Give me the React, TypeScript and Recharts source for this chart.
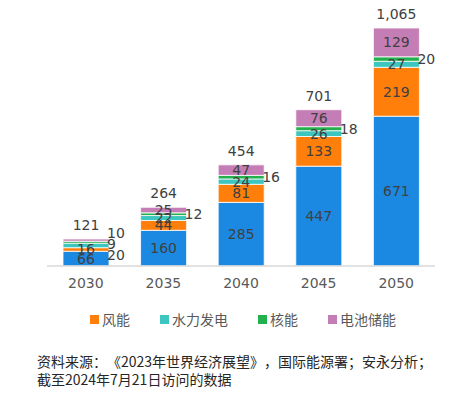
import React from 'react';
import { BarChart, Bar, XAxis, YAxis, LabelList } from 'recharts';

const years = ['2030', '2035', '2040', '2045', '2050'];
const solar = [66, 160, 285, 447, 671];
const wind = [16, 44, 81, 133, 219];
const hydro = [20, 22, 24, 26, 27];
const nuclear = [9, 12, 16, 18, 20];
const battery = [10, 25, 47, 76, 129];
const totals = [121, 264, 454, 701, 1065];

const legendItems = [
  { name: '风能', color: '#FF7F0A' },
  { name: '水力发电', color: '#3CC6BF' },
  { name: '核能', color: '#22B14C' },
  { name: '电池储能', color: '#C57DB5' },
];

const data = years.map((year, i) => ({
  year,
  solar: solar[i],
  wind: wind[i],
  hydro: hydro[i],
  nuclear: nuclear[i],
  battery: battery[i],
  total: totals[i],
}));

const numFont = '"DejaVu Sans", Verdana, sans-serif';
const cjkFont = '"Noto Sans CJK SC", "Noto Sans", sans-serif';
const labelColor = '#404040';

// label in the middle of the segment, or pushed to the right of the bar
const makeLabel = (side: (index: number) => null | number) => (props: any) => {
  const vb = props.viewBox || {};
  const x = props.x ?? vb.x;
  const y = props.y ?? vb.y;
  const width = props.width ?? vb.width;
  const height = props.height ?? vb.height;
  const dy = side(props.index);
  if (dy === null) {
    return (
      <text
        x={x + width / 2}
        y={y + height / 2}
        textAnchor="middle"
        dominantBaseline="central"
        fill={labelColor}
        fontSize={14}
        fontFamily={numFont}
      >
        {props.value}
      </text>
    );
  }
  return (
    <text
      x={x + width - 2}
      y={y + height / 2 + dy}
      textAnchor="start"
      dominantBaseline="central"
      fill={labelColor}
      fontSize={14}
      fontFamily={numFont}
    >
      {props.value}
    </text>
  );
};

const centerLabel = makeLabel(() => null);
const hydroLabel = makeLabel((i) => (i === 0 ? 10 : null));
const nuclearLabel = makeLabel((i) => (i === 0 ? 2 : 0));
const batteryLabel = makeLabel((i) => (i === 0 ? -7 : null));

export default function App() {
  return (
    <div
      style={{
        position: 'absolute',
        left: 0,
        top: 0,
        width: 468,
        height: 393,
        background: '#fff',
      }}
    >
      <BarChart
        width={468}
        height={300}
        data={data}
        margin={{ top: 28, right: 33, left: 47, bottom: 4 }}
        barCategoryGap={16}
      >
        <XAxis
          dataKey="year"
          height={30}
          tickLine={false}
          tickSize={6}
          tickMargin={6}
          axisLine={{ stroke: '#D9D9D9', strokeWidth: 1.5 }}
          tick={{ fill: '#595959', fontSize: 14, fontFamily: numFont }}
        />
        <YAxis hide domain={[0, 1066]} allowDataOverflow />
        <Bar dataKey="solar" name="太阳能" stackId="a" fill="#1B88E2" stroke="#ffffff" strokeWidth={0.8} isAnimationActive={false}>
          <LabelList dataKey="solar" content={centerLabel} />
        </Bar>
        <Bar dataKey="wind" name="风能" stackId="a" fill="#FF7F0A" stroke="#ffffff" strokeWidth={0.8} isAnimationActive={false}>
          <LabelList dataKey="wind" content={centerLabel} />
        </Bar>
        <Bar dataKey="hydro" name="水力发电" stackId="a" fill="#3CC6BF" stroke="#ffffff" strokeWidth={0.8} isAnimationActive={false}>
          <LabelList dataKey="hydro" content={hydroLabel} />
        </Bar>
        <Bar dataKey="nuclear" name="核能" stackId="a" fill="#22B14C" stroke="#ffffff" strokeWidth={0.8} isAnimationActive={false}>
          <LabelList dataKey="nuclear" content={nuclearLabel} />
        </Bar>
        <Bar dataKey="battery" name="电池储能" stackId="a" fill="#C57DB5" stroke="#ffffff" strokeWidth={0.8} isAnimationActive={false}>
          <LabelList dataKey="battery" content={batteryLabel} />
          <LabelList
            dataKey="total"
            position="top"
            offset={9}
            formatter={(v: any) => Number(v).toLocaleString('en-US')}
            fill={labelColor}
            fontSize={14}
            fontFamily={numFont}
          />
        </Bar>
      </BarChart>

      <div
        style={{
          position: 'absolute',
          left: 90,
          top: 309,
          display: 'flex',
          gap: 30,
          fontFamily: cjkFont,
          fontSize: 14,
          color: '#595959',
          lineHeight: '20px',
        }}
      >
        {legendItems.map((item) => (
          <div key={item.name} style={{ display: 'flex', alignItems: 'center' }}>
            <span
              style={{
                display: 'inline-block',
                width: 9,
                height: 9,
                background: item.color,
                marginRight: 3,
              }}
            />
            <span>{item.name}</span>
          </div>
        ))}
      </div>

      <div
        style={
          {
            position: 'absolute',
            left: 37,
            top: 352,
            fontFamily: cjkFont,
            fontSize: 14,
            lineHeight: '18px',
            color: '#262626',
            whiteSpace: 'nowrap',
            textSpacingTrim: 'space-all',
          } as any
        }
      >
        <div>资料来源：《2023年世界经济展望》，国际能源署；安永分析；</div>
        <div>截至2024年7月21日访问的数据</div>
      </div>
    </div>
  );
}
